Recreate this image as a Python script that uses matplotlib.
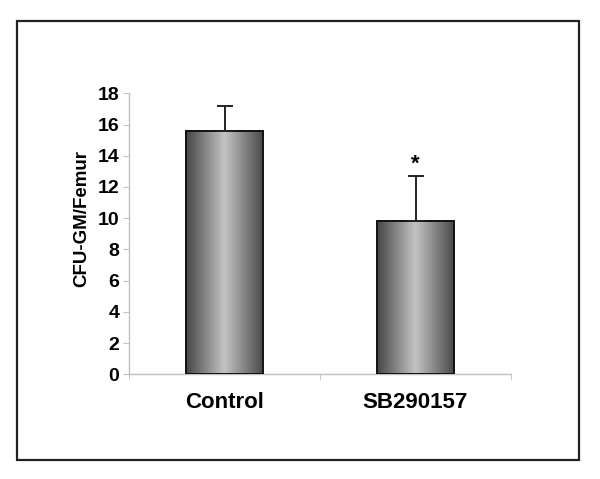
import matplotlib
matplotlib.use("Agg")
import matplotlib.pyplot as plt
import numpy as np
from matplotlib.colors import LinearSegmentedColormap
from matplotlib.patches import Rectangle

categories = ["Control", "SB290157"]
means = [15.6, 9.85]
errors = [1.6, 2.85]
sig_marks = ["", "*"]
yticks = [0, 2, 4, 6, 8, 10, 12, 14, 16, 18]

plt.rcParams['font.family'] = ['Liberation Sans', 'DejaVu Sans']

fig = plt.figure(figsize=(6.0, 4.79), dpi=100)
# outer frame
fig.patches.append(Rectangle((16.7/600, 1 - 460/479), (579.3-16.7)/600, (460-21.3)/479,
                             transform=fig.transFigure, fill=False, edgecolor='#222222',
                             linewidth=1.6, zorder=0))

ax = fig.add_axes([129/600, 1 - 374.3/479, (511-129)/600, (374.3-93.3)/479])
x = np.arange(len(categories))
bars = ax.bar(x, means, width=0.4, color='none', edgecolor='#111111', linewidth=1.4, zorder=3)

cmap = LinearSegmentedColormap.from_list('g', [(0, '#464646'), (0.5, '#c4c4c4'), (1, '#4a4a4a')])
grad = np.linspace(0, 1, 256).reshape(1, -1)
for b in bars:
    bx, by = b.get_x(), b.get_y()
    w, h = b.get_width(), b.get_height()
    im = ax.imshow(grad, cmap=cmap, aspect='auto', extent=(bx, bx + w, by, by + h), zorder=2)
    im.set_clip_path(b)

ax.errorbar(x, means, yerr=[np.zeros(len(means)), errors], fmt='none', ecolor='#222222',
            elinewidth=1.4, capsize=6, capthick=1.4, zorder=4)

for xi, m, e, s in zip(x, means, errors, sig_marks):
    if s:
        ax.text(xi, m + e + 0.75, s, ha='center', va='center', fontsize=16, fontweight='bold')

ax.set_xlim(-0.5, 1.5)
ax.set_ylim(0, 18)
ax.set_yticks(yticks)
ax.set_yticklabels([str(t) for t in yticks], fontsize=14, fontweight='bold')
ax.set_xticks(x)
ax.set_xticklabels(categories, fontsize=16, fontweight='bold')
ax.tick_params(axis='x', length=0, pad=13)
ax.tick_params(axis='y', length=4, color='#c0c0c0', pad=3)
ax.set_xticks([-0.5, 0.5, 1.5], minor=True)
ax.tick_params(axis='x', which='minor', length=4, color='#c0c0c0', direction='out')
for sp in ['top', 'right']:
    ax.spines[sp].set_visible(False)
for sp in ['left', 'bottom']:
    ax.spines[sp].set_color('#c0c0c0')
    ax.spines[sp].set_linewidth(1.0)
ax.set_ylabel("CFU-GM/Femur", fontsize=13.5, fontweight='bold', va='center')
ax.yaxis.set_label_coords(-0.123, 0.556)

fig.savefig("out.png", dpi=100)
